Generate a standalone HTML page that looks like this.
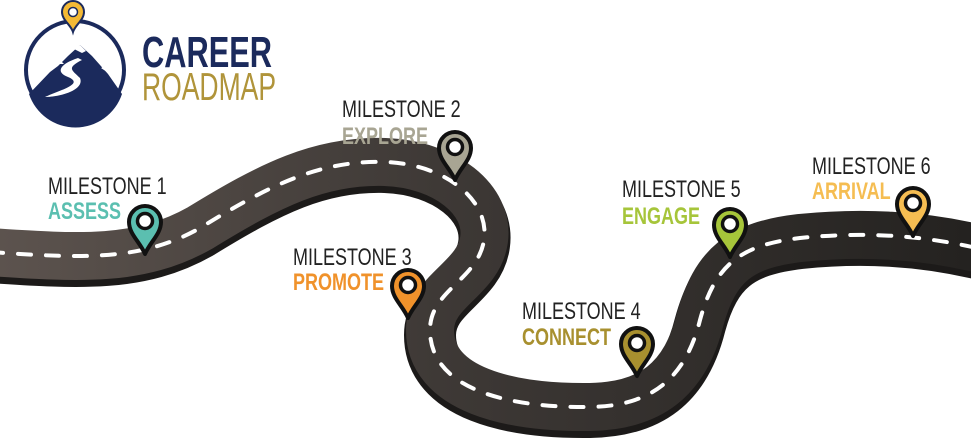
<!DOCTYPE html>
<html><head><meta charset="utf-8"><style>
html,body{margin:0;padding:0;background:#fff;width:971px;height:443px;overflow:hidden}
svg{display:block}
.l1{font-family:"Liberation Sans",sans-serif;font-size:24px;fill:#222}
.l2{font-family:"Liberation Sans",sans-serif;font-size:24px;font-weight:bold}
</style></head><body>
<svg width="971" height="443" viewBox="0 0 971 443" xmlns="http://www.w3.org/2000/svg">
<defs>
<linearGradient id="rg" x1="0" y1="0" x2="971" y2="0" gradientUnits="userSpaceOnUse">
<stop offset="0" stop-color="#5c534e"/><stop offset="0.45" stop-color="#3e3936"/><stop offset="1" stop-color="#242220"/>
</linearGradient>
<g id="pin"><path d="M0,0 C-5,-12 -16,-20 -16,-32 A16,16 0 1 1 16,-32 C16,-20 5,-12 0,0 Z" stroke="#111" stroke-width="4" stroke-linejoin="round"/><circle cx="0" cy="-33" r="7.5" fill="#fff" stroke="#111" stroke-width="3.5"/></g>
</defs>
<g fill="none" stroke-linecap="butt">
<path d="M-10,252 C80,258 140,262 200,228 C270,185 320,160 385,162 C445,164 490,200 484,240 C478,280 430,290 430,330 C430,390 510,408 590,407 C650,406 685,380 700,320 C715,265 740,245 800,238 C860,232 920,234 985,250" stroke="#1c1a19" stroke-width="52" transform="translate(0,5)"/>
<path d="M-10,252 C80,258 140,262 200,228 C270,185 320,160 385,162 C445,164 490,200 484,240 C478,280 430,290 430,330 C430,390 510,408 590,407 C650,406 685,380 700,320 C715,265 740,245 800,238 C860,232 920,234 985,250" stroke="url(#rg)" stroke-width="48"/>
<path d="M-10,252 C80,258 140,262 200,228 C270,185 320,160 385,162 C445,164 490,200 484,240 C478,280 430,290 430,330 C430,390 510,408 590,407 C650,406 685,380 700,320 C715,265 740,245 800,238 C860,232 920,234 985,250" stroke="#fff" stroke-width="4" stroke-dasharray="13 15" stroke-linecap="round"/>
</g>
<!-- logo -->
<circle cx="75" cy="70" r="49" fill="none" stroke="#1b2a5c" stroke-width="4"/>
<path d="M29,94 L50,72 L58,66 L68,56 L80,45 L92,56 L108,74 L122,94 A49,49 0 0 1 29,94 Z" fill="#1b2a5c"/>
<path d="M74,49 L80,45 L86,51 L82,53Z M55,64 L60,60 L64,64Z M101,68 L106,66 L110,74Z" fill="#fff"/>
<path d="M78,58 C60,64 55,72 68,77 C85,84 60,90 45,97 C60,97 85,90 80,78 C72,70 66,68 82,60Z" fill="#fff"/>
<path d="M73,32 C71,25 62,20 62,12 A11,11 0 1 1 84,12 C84,20 75,25 73,32Z" fill="#f3b935" stroke="#1b2a5c" stroke-width="2"/>
<circle cx="73" cy="12" r="4.5" fill="#fff" stroke="#1b2a5c" stroke-width="1.5"/>
<text x="142" y="67" font-family="Liberation Sans,sans-serif" font-weight="bold" font-size="44" fill="#1b2a5c" transform="translate(142,0) scale(0.7,1) translate(-142,0)">CAREER</text>
<text x="142" y="100" font-family="Liberation Sans,sans-serif" font-size="39" fill="#b0943a" transform="translate(142,0) scale(0.68,1) translate(-142,0)">ROADMAP</text>
<!-- labels -->
<g transform="translate(48,0) scale(0.75,1) translate(-48,0)"><text class="l1" x="48" y="194">MILESTONE 1</text><text class="l2" x="48" y="219" fill="#5bbfb0">ASSESS</text></g>
<g transform="translate(342,0) scale(0.75,1) translate(-342,0)"><text class="l1" x="342" y="117">MILESTONE 2</text><text class="l2" x="342" y="144" fill="#a8a593">EXPLORE</text></g>
<g transform="translate(293,0) scale(0.75,1) translate(-293,0)"><text class="l1" x="293" y="265">MILESTONE 3</text><text class="l2" x="293" y="290" fill="#f0922b">PROMOTE</text></g>
<g transform="translate(522,0) scale(0.75,1) translate(-522,0)"><text class="l1" x="522" y="319">MILESTONE 4</text><text class="l2" x="522" y="345" fill="#a8902f">CONNECT</text></g>
<g transform="translate(622,0) scale(0.75,1) translate(-622,0)"><text class="l1" x="622" y="197">MILESTONE 5</text><text class="l2" x="622" y="224" fill="#a6c53a">ENGAGE</text></g>
<g transform="translate(812,0) scale(0.75,1) translate(-812,0)"><text class="l1" x="812" y="174">MILESTONE 6</text><text class="l2" x="812" y="199" fill="#f5bd52">ARRIVAL</text></g>
<use href="#pin" x="145" y="254" fill="#5bbfb0"/>
<use href="#pin" x="455" y="180" fill="#a8a593"/>
<use href="#pin" x="408" y="318" fill="#f0922b"/>
<use href="#pin" x="637" y="376" fill="#a8902f"/>
<use href="#pin" x="730" y="257" fill="#a6c53a"/>
<use href="#pin" x="913" y="236" fill="#f5bd52"/>
</svg>
</body></html>
